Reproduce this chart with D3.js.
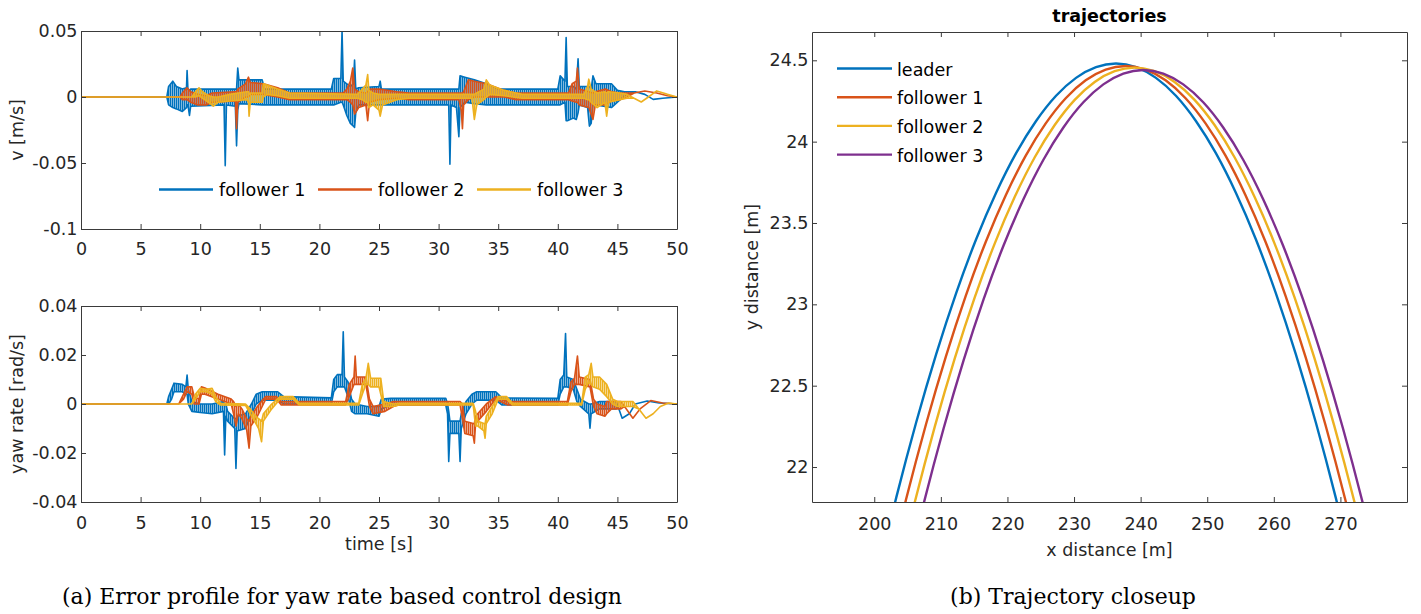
<!DOCTYPE html>
<html>
<head>
<meta charset="utf-8">
<script src="https://cdn.jsdelivr.net/npm/d3@7"></script>
<style>
  body { margin: 0; background: #fff; }
  svg { display: block; }
  .axis text { font: 17.5px "DejaVu Sans", sans-serif; fill: #262626; }
  .axis line, .axis path { stroke: #3a3a3a; }
  .lbl { font: 17.5px "DejaVu Sans", sans-serif; fill: #262626; }
  .leg { font: 17.5px "DejaVu Sans", sans-serif; fill: #000; }
  .ttl { font: bold 17.5px "DejaVu Sans", sans-serif; fill: #000; }
  .cap { font: 22px "DejaVu Serif", serif; fill: #000; }
</style>
</head>
<body>
<svg id="fig" width="1421" height="614"></svg>
<script>
// ---------- tick labels ----------
const timeTicks = [0, 5, 10, 15, 20, 25, 30, 35, 40, 45, 50];
const vTicks = [0.05, 0, -0.05, -0.1];
const yawTicks = [0.04, 0.02, 0, -0.02, -0.04];
const xDistTicks = [200, 210, 220, 230, 240, 250, 260, 270];
const yDistTicks = [22, 22.5, 23, 23.5, 24, 24.5];

const followerNames = ["follower 1", "follower 2", "follower 3"];
const trajNames = ["leader", "follower 1", "follower 2", "follower 3"];

// ---------- velocity error envelopes: [time s, low m/s, high m/s] ----------
const vFollower1 = [
  [0,0,0],[7.2,0,0],[7.35,-0.006,0.008],[7.7,-0.008,0.012],[8.0,-0.009,0.008],[8.5,-0.011,0.006],
  [8.85,-0.008,0.007],[8.9,-0.006,0.020],[8.97,-0.006,0.006],[9.1,-0.014,0.005],[9.2,-0.007,0.006],
  [12.0,-0.006,0.006],[12.1,-0.052,0.006],[12.2,-0.006,0.006],[12.95,-0.007,0.006],[13.05,-0.037,0.006],
  [13.15,-0.010,0.022],[13.25,-0.005,0.013],[15.2,-0.006,0.013],[15.4,-0.006,0.006],[21.0,-0.006,0.006],
  [21.2,-0.006,0.014],[21.8,-0.004,0.014],[21.9,-0.004,0.050],[22.0,-0.006,0.012],[22.3,-0.014,0.010],
  [22.6,-0.020,0.008],[22.85,-0.022,0.010],[22.95,-0.023,0.028],[23.05,-0.012,0.006],[23.3,-0.006,0.007],
  [25.0,-0.006,0.008],[25.1,-0.006,0.012],[25.2,-0.006,0.006],[30.85,-0.006,0.006],[30.95,-0.051,0.006],
  [31.05,-0.006,0.006],[31.5,-0.008,0.006],[31.7,-0.030,0.006],[31.8,-0.008,0.016],[32.2,-0.004,0.015],
  [33.0,-0.005,0.013],[34.0,-0.006,0.010],[35.0,-0.006,0.006],[40.0,-0.006,0.006],[40.2,-0.006,0.016],
  [40.6,-0.004,0.012],[40.7,-0.018,0.045],[40.8,-0.018,0.008],[41.3,-0.016,0.008],[41.55,-0.017,0.006],
  [41.7,-0.012,0.029],[41.8,-0.006,0.008],[42.5,-0.008,0.008],[42.65,-0.022,0.008],[42.8,-0.020,0.006],
  [42.95,-0.006,0.016],[43.2,-0.006,0.010],[44.5,-0.008,0.010],[45.0,-0.004,0.005],[45.6,0.001,0.004],
  [46.5,0.004,0.004],[47.3,0.002,0.002],[48.0,-0.0018,-0.0018],[48.8,-0.001,-0.001],[50,0,0]
];
const vFollower2 = [
  [0,0,0],[8.3,0,0],[8.5,-0.002,0.003],[8.9,-0.002,0.007],[9.2,-0.004,0.004],[9.8,-0.006,0.002],
  [10.5,-0.006,0.001],[11.0,-0.004,0.003],[12.95,-0.003,0.004],[13.05,-0.024,0.004],[13.15,-0.004,0.006],
  [13.8,0.000,0.010],[14.05,0.000,0.015],[14.2,0.002,0.011],[15.3,0.002,0.010],[16.5,0.000,0.007],
  [17.5,-0.002,0.003],[22.0,-0.002,0.003],[22.3,-0.002,0.006],[22.6,-0.004,0.012],[22.8,-0.006,0.022],
  [22.95,-0.013,0.006],[23.3,-0.008,0.004],[23.9,-0.006,0.003],[24.05,-0.018,0.004],[24.2,-0.004,0.006],
  [25.0,-0.002,0.006],[26.5,-0.001,0.004],[27.5,-0.002,0.003],[31.7,-0.002,0.003],[31.9,-0.010,0.003],
  [32.0,-0.024,0.003],[32.1,-0.006,0.004],[32.5,-0.002,0.013],[33.0,0.000,0.012],[34.0,0.000,0.010],
  [35.5,0.000,0.005],[36.5,-0.002,0.003],[40.9,-0.002,0.003],[41.2,-0.003,0.010],[41.55,-0.004,0.012],
  [41.65,-0.004,0.022],[41.8,-0.006,0.006],[42.6,-0.008,0.004],[42.95,-0.017,0.003],[43.15,-0.006,0.004],
  [44.0,-0.006,0.006],[44.5,-0.003,0.004],[45.2,-0.002,0.003],[45.8,0.000,0.003],[46.4,0.003,0.003],
  [47.3,0.0045,0.0045],[48.3,0.003,0.003],[49.2,0.001,0.001],[50,0,0]
];
const vFollower3 = [
  [0,0,0],[9.3,0,0],[9.6,0.000,0.004],[9.9,0.001,0.007],[10.2,-0.001,0.004],[10.7,-0.004,0.001],
  [11.1,-0.007,0.000],[11.5,-0.004,0.000],[12.5,-0.003,0.002],[13.9,-0.002,0.004],[14.05,-0.004,0.004],
  [14.1,-0.0145,0.002],[14.2,-0.004,0.003],[15.2,-0.004,0.003],[15.3,0.000,0.010],[15.6,0.002,0.009],
  [16.5,0.001,0.006],[17.5,-0.001,0.003],[23.2,-0.001,0.002],[23.6,-0.002,0.006],[23.9,-0.004,0.009],
  [24.05,-0.004,0.017],[24.15,-0.008,0.005],[24.5,-0.006,0.003],[25.0,-0.010,0.002],[25.1,-0.0145,0.002],
  [25.3,-0.006,0.002],[26.5,-0.002,0.002],[27.5,-0.001,0.002],[32.8,-0.001,0.002],[33.0,-0.017,0.002],
  [33.2,-0.006,0.003],[33.8,-0.002,0.006],[34.0,0.000,0.013],[34.3,0.002,0.009],[35.5,0.001,0.005],
  [37.0,-0.001,0.002],[42.2,-0.001,0.002],[42.5,-0.002,0.008],[42.6,-0.002,0.0135],[42.8,-0.004,0.006],
  [43.3,-0.008,0.003],[43.95,-0.004,0.004],[44.1,-0.0145,0.003],[44.25,-0.004,0.004],[45.2,-0.002,0.003],
  [45.8,-0.001,0.002],[46.4,-0.001,-0.001],[47.0,-0.0038,-0.0038],[47.6,0,0],[48.3,0.0046,0.0046],
  [49.2,0.002,0.002],[50,0,0]
];

// ---------- yaw rate error envelopes: [time s, low rad/s, high rad/s] ----------
const yawFollower1 = [
  [0,0,0],[7.2,0,0],[7.35,0.000,0.003],[7.6,0.002,0.006],[7.8,0.005,0.0085],[8.5,0.005,0.008],
  [8.8,0.004,0.007],[8.9,0.004,0.0118],[9.0,0.000,0.006],[9.3,-0.003,0.001],[10.0,-0.0035,0.000],
  [11.0,-0.004,0.000],[11.95,-0.003,0.001],[12.05,-0.0208,0.000],[12.15,-0.005,0.000],[12.3,-0.007,-0.003],
  [12.9,-0.010,-0.006],[13.0,-0.0263,-0.006],[13.1,-0.011,-0.005],[13.8,-0.010,-0.004],[14.3,-0.004,0.000],
  [14.7,0.000,0.004],[15.2,0.0016,0.005],[16.5,0.0016,0.005],[17.0,0.000,0.003],[21.0,0.000,0.0025],
  [21.2,0.005,0.010],[21.5,0.007,0.012],[21.9,0.007,0.012],[22.0,0.007,0.0295],[22.1,0.007,0.011],
  [22.4,0.003,0.009],[22.7,-0.003,0.002],[23.0,-0.004,0.000],[24.0,-0.004,-0.001],[25.0,-0.005,-0.001],
  [25.2,-0.002,0.002],[26.0,-0.0004,0.0023],[30.6,-0.0004,0.0023],[30.75,-0.004,0.000],[30.85,-0.0235,-0.003],
  [30.95,-0.012,-0.007],[31.7,-0.012,-0.007],[31.8,-0.0235,-0.007],[31.9,-0.010,-0.004],[32.3,-0.004,0.001],
  [32.8,0.000,0.004],[33.2,0.0016,0.005],[34.8,0.0016,0.005],[35.3,-0.0004,0.0025],[40.0,-0.0004,0.0023],
  [40.2,0.004,0.010],[40.5,0.007,0.0118],[40.65,0.007,0.0288],[40.75,0.007,0.011],[41.3,0.006,0.010],
  [41.6,0.001,0.006],[41.9,-0.001,0.002],[42.6,-0.004,0.000],[42.7,-0.0099,0.000],[42.8,-0.004,0.000],
  [43.5,-0.002,0.001],[44.9,-0.002,0.001],[45.05,-0.001,-0.001],[45.4,-0.0058,-0.0058],[46.0,-0.004,-0.004],
  [46.5,0,0],[47.5,0.0012,0.0012],[48.5,0.0004,0.0004],[50,0,0]
];
const yawFollower2 = [
  [0,0,0],[8.2,0,0],[8.6,0.002,0.004],[8.9,0.005,0.007],[9.3,0.004,0.007],[9.5,0.000,0.003],
  [9.9,0.000,0.002],[10.1,0.004,0.007],[10.4,0.004,0.0065],[11.5,0.002,0.004],[12.6,0.000,0.002],
  [12.8,-0.004,0.001],[13.0,-0.009,-0.001],[13.2,-0.004,0.000],[13.5,-0.006,-0.002],[13.9,-0.0106,-0.006],
  [14.1,-0.018,-0.007],[14.25,-0.009,-0.005],[14.8,-0.005,-0.001],[15.3,0.000,0.002],[15.5,0.002,0.003],
  [16.4,0.002,0.003],[16.8,-0.0004,0.001],[22.2,-0.0004,0.001],[22.5,0.003,0.008],[22.9,0.008,0.011],
  [23.0,0.008,0.0196],[23.1,0.008,0.011],[23.9,0.008,0.011],[24.2,-0.001,0.002],[24.5,-0.004,-0.001],
  [25.5,-0.003,0.000],[26.2,-0.001,0.001],[26.6,-0.0004,0.001],[31.8,-0.0004,0.001],[32.0,-0.006,0.000],
  [32.2,-0.012,-0.007],[32.9,-0.013,-0.008],[33.0,-0.016,-0.008],[33.1,-0.008,-0.005],[34.0,-0.003,0.000],
  [34.8,0.002,0.003],[35.2,0.001,0.002],[35.8,-0.0004,0.001],[40.8,-0.0004,0.001],[41.1,0.005,0.009],
  [41.4,0.008,0.0105],[41.65,0.008,0.0196],[41.8,0.008,0.011],[42.7,0.007,0.010],[43.0,-0.001,0.002],
  [43.3,-0.004,0.000],[43.95,-0.005,-0.001],[44.1,-0.004,0.001],[44.5,-0.002,0.001],[45.3,-0.002,0.001],
  [45.6,-0.001,-0.001],[46.3,-0.0058,-0.0058],[46.9,-0.002,-0.002],[47.8,0.0014,0.0014],
  [48.8,0.0004,0.0004],[50,0,0]
];
const yawFollower3 = [
  [0,0,0],[9.3,0,0],[9.6,0.002,0.004],[10.0,0.005,0.0064],[10.5,0.005,0.006],[11.0,0.004,0.0064],
  [11.3,0.001,0.003],[11.7,-0.0004,0.0003],[13.8,-0.0006,0.000],[14.2,-0.004,-0.002],[14.5,-0.0065,-0.004],
  [14.9,-0.010,-0.006],[15.15,-0.0154,-0.007],[15.3,-0.007,-0.004],[16.0,-0.002,0.000],[16.7,0.002,0.003],
  [17.8,0.002,0.003],[18.3,-0.0004,0.0003],[23.3,-0.0004,0.0003],[23.6,0.004,0.008],[23.9,0.008,0.0105],
  [24.1,0.008,0.0166],[24.3,0.007,0.0105],[25.0,0.007,0.0105],[25.15,0.004,0.0105],[25.4,-0.001,0.001],
  [26.2,-0.001,0.000],[26.7,-0.0004,0.0003],[32.9,-0.0004,0.0003],[33.1,-0.009,-0.003],[33.3,-0.009,-0.007],
  [33.8,-0.011,-0.008],[33.9,-0.014,-0.008],[34.0,-0.008,-0.005],[34.5,-0.004,-0.001],[35.0,0.002,0.003],
  [35.7,0.002,0.003],[36.2,-0.0004,0.0003],[42.0,-0.0004,0.0003],[42.3,0.006,0.011],[42.6,0.009,0.012],
  [42.8,0.008,0.0166],[42.95,0.007,0.011],[43.5,0.006,0.011],[44.1,0.003,0.008],[44.6,0.000,0.002],
  [45.0,-0.001,0.001],[46.3,-0.001,0.001],[46.8,-0.002,-0.002],[47.4,-0.0058,-0.0058],[48.0,-0.004,-0.004],
  [48.6,-0.001,-0.001],[49.3,0.0004,0.0004],[50,0,0]
];

// ---------- trajectory closeup: [x distance m, y distance m] ----------
const leaderPath = [
  [201.8,21.564],[203.3,21.812],[206.3,22.275],[209.3,22.694],[212.3,23.069],[215.3,23.400],[218.3,23.686],
  [221.3,23.929],[224.3,24.127],[227.3,24.282],[230.3,24.392],[233.3,24.458],[236.3,24.480],[239.3,24.458],
  [242.3,24.392],[245.3,24.282],[248.3,24.127],[251.3,23.929],[254.3,23.686],[257.3,23.400],[260.3,23.069],
  [263.3,22.694],[266.3,22.275],[269.3,21.812],[270.8,21.564]
];
const follower1Path = [
  [203.25,21.549],[204.75,21.797],[207.75,22.260],[210.75,22.679],[213.75,23.054],[216.75,23.385],[219.75,23.671],
  [222.75,23.914],[225.75,24.112],[228.75,24.267],[231.75,24.377],[234.75,24.443],[237.75,24.465],[240.75,24.443],
  [243.75,24.377],[246.75,24.267],[249.75,24.112],[252.75,23.914],[255.75,23.671],[258.75,23.385],[261.75,23.054],
  [264.75,22.679],[267.75,22.260],[270.75,21.797],[272.25,21.549]
];
const follower2Path = [
  [204.6,21.539],[206.1,21.787],[209.1,22.250],[212.1,22.669],[215.1,23.044],[218.1,23.375],[221.1,23.661],
  [224.1,23.904],[227.1,24.102],[230.1,24.257],[233.1,24.367],[236.1,24.433],[239.1,24.455],[242.1,24.433],
  [245.1,24.367],[248.1,24.257],[251.1,24.102],[254.1,23.904],[257.1,23.661],[260.1,23.375],[263.1,23.044],
  [266.1,22.669],[269.1,22.250],[272.1,21.787],[273.6,21.539]
];
const follower3Path = [
  [205.9,21.524],[207.4,21.772],[210.4,22.235],[213.4,22.654],[216.4,23.029],[219.4,23.360],[222.4,23.646],
  [225.4,23.889],[228.4,24.087],[231.4,24.242],[234.4,24.352],[237.4,24.418],[240.4,24.440],[243.4,24.418],
  [246.4,24.352],[249.4,24.242],[252.4,24.087],[255.4,23.889],[258.4,23.646],[261.4,23.360],[264.4,23.029],
  [267.4,22.654],[270.4,22.235],[273.4,21.772],[274.9,21.524]
];

// MATLAB default line colours
const colors = ["#0072BD", "#D95319", "#EDB120", "#7E2F8E"];

const svg = d3.select("#fig");
const defs = svg.append("defs");
const TICK = 5;

// fine vertical hatching: the fast oscillation inside each error band
colors.forEach((c, i) => {
  const p = defs.append("pattern").attr("id", "comb" + i)
    .attr("patternUnits", "userSpaceOnUse").attr("width", 2).attr("height", 12);
  p.append("rect").attr("width", 1.5).attr("height", 12).attr("fill", c);
});

// Boxed axes with inward ticks on all four sides
function frame(x, y, xt, yt, padX) {
  const [x0, x1] = x.range();
  const [yb, yt0] = y.range();
  const g = svg.append("g").attr("class", "axis").attr("color", "#3a3a3a");
  const clean = s => s.attr("font-size", null).attr("font-family", null);
  g.append("g").attr("transform", `translate(0,${yb})`)
    .call(d3.axisBottom(x).tickValues(xt).tickSizeInner(-TICK).tickSizeOuter(0).tickPadding(padX).tickFormat(String))
    .call(clean);
  g.append("g").attr("transform", `translate(0,${yt0})`)
    .call(d3.axisTop(x).tickValues(xt).tickSizeInner(-TICK).tickSizeOuter(0).tickFormat(""))
    .call(clean);
  g.append("g").attr("transform", `translate(${x0},0)`)
    .call(d3.axisLeft(y).tickValues(yt).tickSizeInner(-TICK).tickSizeOuter(0).tickPadding(3.5).tickFormat(String))
    .call(clean);
  g.append("g").attr("transform", `translate(${x1},0)`)
    .call(d3.axisRight(y).tickValues(yt).tickSizeInner(-TICK).tickSizeOuter(0).tickFormat(""))
    .call(clean);
  g.selectAll("text").attr("fill", "#262626");
}

function clipFor(id, x, y) {
  const [x0, x1] = x.range();
  const [yb, yt] = y.range();
  defs.append("clipPath").attr("id", id).append("rect")
    .attr("x", x0).attr("y", yt).attr("width", x1 - x0).attr("height", yb - yt);
  return `url(#${id})`;
}

// Error traces: hatched envelope between low and high, outlined so flat stretches read as lines
function drawEnvelopes(series, x, y, clip) {
  const area = d3.area().x(d => x(d[0])).y0(d => y(d[1])).y1(d => y(d[2]));
  const g = svg.append("g").attr("clip-path", clip);
  series.forEach((s, i) => {
    g.append("path").attr("d", area(s))
      .attr("fill", `url(#comb${i})`).attr("stroke", colors[i])
      .attr("stroke-width", 1.6).attr("stroke-linejoin", "round");
  });
}

// ---------- (a) top: velocity error ----------
const xTime = d3.scaleLinear().domain([0, 50]).range([81, 677]);
const yV = d3.scaleLinear().domain([-0.1, 0.05]).range([229, 31]);
drawEnvelopes([vFollower1, vFollower2, vFollower3], xTime, yV, clipFor("clipV", xTime, yV));
frame(xTime, yV, timeTicks, vTicks, 14);

svg.append("text").attr("class", "lbl").attr("text-anchor", "middle")
  .attr("transform", `translate(23,${(yV.range()[0] + yV.range()[1]) / 2}) rotate(-90)`)
  .text("v [m/s]");

// horizontal legend inside the top panel
const legA = svg.append("g");
followerNames.forEach((name, i) => {
  const lx = 159 + i * 159, ly = 189.5;
  legA.append("line").attr("x1", lx).attr("x2", lx + 54).attr("y1", ly).attr("y2", ly)
    .attr("stroke", colors[i]).attr("stroke-width", 2.4);
  legA.append("text").attr("class", "leg").attr("x", lx + 60).attr("y", ly + 6.5).text(name);
});

// ---------- (a) bottom: yaw rate error ----------
const yYaw = d3.scaleLinear().domain([-0.04, 0.04]).range([502, 306]);
drawEnvelopes([yawFollower1, yawFollower2, yawFollower3], xTime, yYaw, clipFor("clipYaw", xTime, yYaw));
frame(xTime, yYaw, timeTicks, yawTicks, 15);

svg.append("text").attr("class", "lbl").attr("text-anchor", "middle")
  .attr("transform", `translate(23,${(yYaw.range()[0] + yYaw.range()[1]) / 2}) rotate(-90)`)
  .text("yaw rate [rad/s]");
svg.append("text").attr("class", "lbl").attr("text-anchor", "middle")
  .attr("x", (xTime.range()[0] + xTime.range()[1]) / 2).attr("y", 550).text("time [s]");

// ---------- (b) trajectory closeup ----------
const xDist = d3.scaleLinear().domain([190.65, 280]).range([812, 1407]);
const yDist = d3.scaleLinear().domain([21.785, 24.674]).range([502, 32]);
const clipT = clipFor("clipT", xDist, yDist);
const line = d3.line().x(d => xDist(d[0])).y(d => yDist(d[1])).curve(d3.curveMonotoneX);
const gT = svg.append("g").attr("clip-path", clipT);
[leaderPath, follower1Path, follower2Path, follower3Path].forEach((p, i) => {
  gT.append("path").attr("d", line(p)).attr("fill", "none")
    .attr("stroke", colors[i]).attr("stroke-width", 2.4);
});
frame(xDist, yDist, xDistTicks, yDistTicks, 16);

svg.append("text").attr("class", "ttl").attr("text-anchor", "middle")
  .attr("x", (xDist.range()[0] + xDist.range()[1]) / 2).attr("y", 21.5).text("trajectories");
svg.append("text").attr("class", "lbl").attr("text-anchor", "middle")
  .attr("x", (xDist.range()[0] + xDist.range()[1]) / 2).attr("y", 556).text("x distance [m]");
svg.append("text").attr("class", "lbl").attr("text-anchor", "middle")
  .attr("transform", `translate(758,${(yDist.range()[0] + yDist.range()[1]) / 2}) rotate(-90)`)
  .text("y distance [m]");

const legB = svg.append("g");
trajNames.forEach((name, i) => {
  const lx = 837, ly = 68.5 + i * 28.7;
  legB.append("line").attr("x1", lx).attr("x2", lx + 55).attr("y1", ly).attr("y2", ly)
    .attr("stroke", colors[i]).attr("stroke-width", 2.4);
  legB.append("text").attr("class", "leg").attr("x", lx + 60).attr("y", ly + 7).text(name);
});

// ---------- captions ----------
svg.append("text").attr("class", "cap").attr("text-anchor", "middle")
  .attr("x", 342).attr("y", 604).text("(a) Error profile for yaw rate based control design");
svg.append("text").attr("class", "cap").attr("text-anchor", "middle")
  .attr("x", 1073).attr("y", 604).text("(b) Trajectory closeup");
</script>
</body>
</html>
